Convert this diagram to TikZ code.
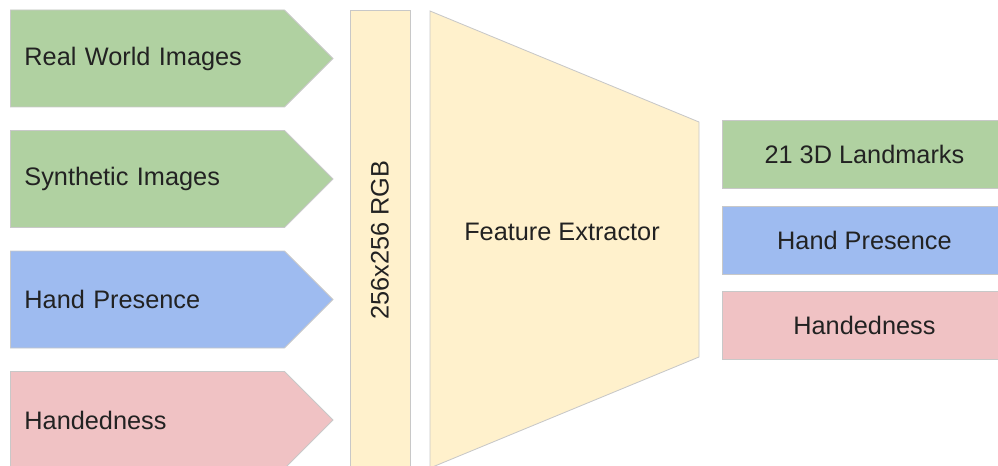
\documentclass[tikz,border=0pt]{standalone}
\usepackage{fontspec}
\setmainfont{Liberation Sans}
\usepackage{tikz}
\usetikzlibrary{shapes.symbols,positioning}
\definecolor{srcgreen}{RGB}{176,209,161}
\definecolor{srcblue}{RGB}{158,187,240}
\definecolor{srcpink}{RGB}{240,194,196}
\definecolor{netcream}{RGB}{255,241,204}
\definecolor{edgegrey}{RGB}{200,200,200}
\definecolor{labelink}{RGB}{34,34,34}

\begin{document}
\begin{tikzpicture}[
  font=\fontsize{18}{21}\selectfont, text=labelink,
  srcbox/.style={signal, signal to=east, signal pointer angle=90, draw=edgegrey, line width=0.6pt,
    text width=6.15cm, inner xsep=0.35cm, inner ysep=0pt, minimum height=2.425cm, align=left, anchor=west},
  headbox/.style={draw=edgegrey, line width=0.6pt, minimum width=7.1cm, minimum height=1.7cm, anchor=west},
  netpart/.style={draw=edgegrey, line width=0.6pt, fill=netcream}
]
\useasboundingbox (0,0) rectangle (24.95,11.625);
% ---- inputs -----------------------------------------------------------------
\node[srcbox, fill=srcgreen] (real) at (0.25,10.1625) {Real World Images};
\node[srcbox, fill=srcgreen] (synth) at (0.25,7.15) {Synthetic Images};
\node[srcbox, fill=srcblue] (presin) at (0.25,4.1375) {Hand Presence};
\node[srcbox, fill=srcpink] (handin) at (0.25,1.125) {Handedness};

% ---- network ----------------------------------------------------------------
\node[netpart, rotate=90, minimum width=11.5cm, minimum height=1.5cm] (rgb) at (9.5,5.625) {256x256 RGB};
\draw[netpart] (10.75,11.35) coordinate (ftl) -- (17.475,8.575) coordinate (ftr)
  -- (17.475,2.7) coordinate (fbr) -- (10.75,-0.075) coordinate (fbl) -- cycle;
\node (feat) at (14.05,5.825) {Feature Extractor};

% ---- outputs ----------------------------------------------------------------
\node[headbox, fill=srcgreen] (lmk) at (18.05,7.775) {21 3D Landmarks};
\node[headbox, fill=srcblue] (presout) at (18.05,5.625) {Hand Presence};
\node[headbox, fill=srcpink] (handout) at (18.05,3.5) {Handedness};
\end{tikzpicture}
\end{document}
